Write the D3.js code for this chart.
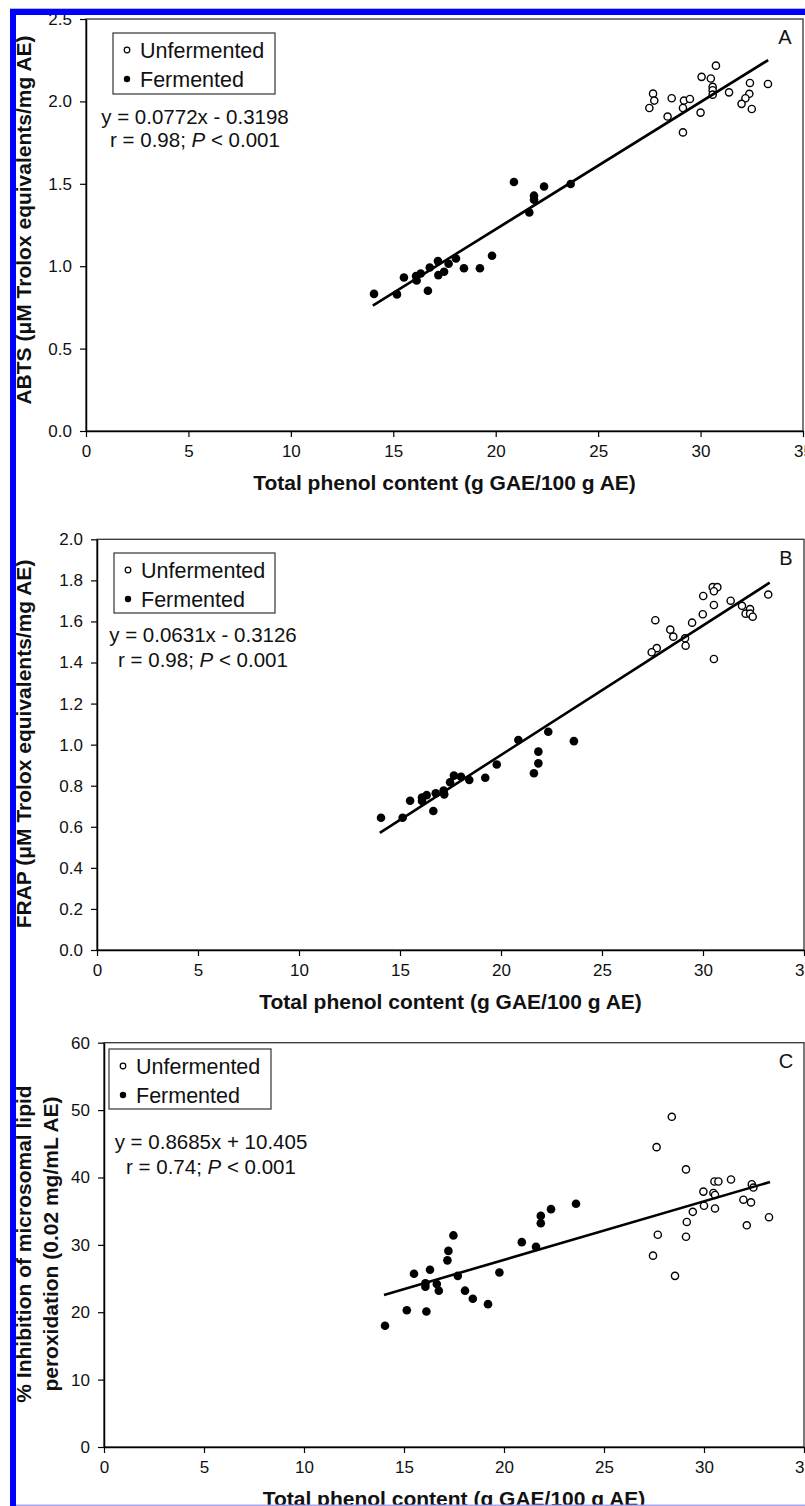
<!DOCTYPE html>
<html><head><meta charset="utf-8">
<script src="https://cdn.jsdelivr.net/npm/d3@7"></script>
<style>body{margin:0;background:#fff;} svg{display:block;}</style>
</head><body>
<script>
// ---------- data ----------
const xTicks = [0, 5, 10, 15, 20, 25, 30, 35];
const yTicksA = [0, 0.5, 1.0, 1.5, 2.0, 2.5];
const yTicksB = [0, 0.2, 0.4, 0.6, 0.8, 1.0, 1.2, 1.4, 1.6, 1.8, 2.0];
const yTicksC = [0, 10, 20, 30, 40, 50, 60];

const unfA_x = [30.75, 30.05, 30.5, 30.59, 30.59, 30.59, 32.41, 33.29, 31.39, 32.38, 32.19, 32.0, 32.5, 27.68, 27.74, 27.5, 28.59, 29.19, 29.48, 29.14, 28.39, 30.0, 29.14];
const unfA_y = [2.217, 2.149, 2.139, 2.088, 2.068, 2.041, 2.112, 2.106, 2.055, 2.046, 2.019, 1.985, 1.954, 2.047, 2.005, 1.960, 2.019, 2.005, 2.015, 1.960, 1.908, 1.932, 1.812];
const ferA_x = [20.89, 22.36, 23.66, 21.87, 21.87, 21.64, 19.82, 19.23, 18.45, 18.06, 17.7, 17.48, 17.2, 17.18, 16.78, 16.69, 16.34, 16.11, 16.14, 15.52, 15.18, 14.06];
const ferA_y = [1.511, 1.484, 1.499, 1.428, 1.403, 1.326, 1.063, 0.988, 0.988, 1.047, 1.015, 0.966, 0.946, 1.031, 0.992, 0.851, 0.956, 0.940, 0.913, 0.931, 0.829, 0.832];

const unfB_x = [30.48, 30.71, 30.54, 30.01, 31.37, 33.23, 30.54, 31.93, 32.33, 32.11, 32.33, 32.46, 29.99, 29.46, 27.64, 28.38, 28.53, 29.11, 29.14, 27.71, 27.46, 30.54];
const unfB_y = [1.767, 1.767, 1.747, 1.724, 1.701, 1.731, 1.680, 1.676, 1.660, 1.638, 1.638, 1.623, 1.635, 1.594, 1.606, 1.560, 1.526, 1.518, 1.482, 1.470, 1.450, 1.417];
const ferB_x = [23.61, 22.34, 20.86, 21.85, 21.85, 21.63, 19.79, 19.22, 18.43, 18.02, 17.67, 17.48, 17.16, 17.19, 16.77, 16.65, 16.32, 16.09, 16.09, 15.5, 15.13, 14.06];
const ferB_y = [1.017, 1.063, 1.023, 0.966, 0.909, 0.861, 0.903, 0.839, 0.828, 0.844, 0.849, 0.817, 0.776, 0.758, 0.763, 0.677, 0.754, 0.742, 0.726, 0.727, 0.644, 0.644];

const unfC_x = [28.39, 27.63, 29.1, 30.52, 30.72, 31.35, 32.39, 32.47, 29.97, 30.47, 30.55, 31.97, 32.35, 30.0, 30.55, 29.44, 29.14, 33.25, 32.14, 27.69, 29.1, 27.45, 28.55];
const unfC_y = [49.0, 44.5, 41.2, 39.4, 39.4, 39.7, 39.0, 38.5, 37.9, 37.7, 37.4, 36.7, 36.3, 35.8, 35.4, 34.9, 33.4, 34.1, 32.9, 31.5, 31.2, 28.4, 25.4];
const ferC_x = [23.6, 22.35, 21.84, 21.84, 20.89, 21.6, 17.47, 17.22, 17.17, 16.3, 15.5, 16.07, 16.07, 16.64, 16.74, 17.69, 18.05, 18.44, 19.2, 19.77, 15.14, 16.12, 14.05];
const ferC_y = [36.1, 35.3, 34.3, 33.2, 30.4, 29.7, 31.4, 29.1, 27.7, 26.3, 25.7, 24.3, 23.8, 24.2, 23.2, 25.4, 23.2, 22.0, 21.2, 25.9, 20.3, 20.1, 18.0];

const slopes = [0.0772, 0.0631, 0.8685];
const intercepts = [-0.3198, -0.3126, 10.405];
const fitRange = [14.0, 33.3];
const eqLines = ["y = 0.0772x - 0.3198", "y = 0.0631x - 0.3126", "y = 0.8685x + 10.405"];
const rValues = ["0.98", "0.98", "0.74"];
const legendLabels = ["Unfermented", "Fermented"];
const panelLetters = ["A", "B", "C"];
const yTitles = [
  ["ABTS (\u03BCM Trolox equivalents/mg AE)"],
  ["FRAP (\u03BCM Trolox equivalents/mg AE)"],
  ["% Inhibition of microsomal lipid", "peroxidation (0.02 mg/mL AE)"]
];
const xTitle = "Total phenol content (g GAE/100 g AE)";

// ---------- layout ----------
const W = 805, H = 1506;
const FONT = "'Liberation Sans', Arial, Helvetica, sans-serif";
const layouts = [
  {l: 86, r: 803, t: 19, b: 431, yMax: 2.5, fmt: d3.format(".1f"), yTicks: yTicksA, ux: unfA_x, uy: unfA_y, fx: ferA_x, fy: ferA_y,
   leg: [113, 33, 162, 61], eq: [195, 117, 140], yTitleC: 220},
  {l: 97, r: 804, t: 539.3, b: 950, yMax: 2.0, fmt: d3.format(".1f"), yTicks: yTicksB, ux: unfB_x, uy: unfB_y, fx: ferB_x, fy: ferB_y,
   leg: [114, 553, 161, 60], eq: [203, 635, 660], yTitleC: 744},
  {l: 104, r: 804, t: 1042.7, b: 1447, yMax: 60, fmt: d3.format("d"), yTicks: yTicksC, ux: unfC_x, uy: unfC_y, fx: ferC_x, fy: ferC_y,
   leg: [109, 1049, 162, 60], eq: [211, 1142, 1167], yTitleC: 1244}
];

const svg = d3.select("body").append("svg").attr("width", W).attr("height", H)
  .style("font-family", FONT);

layouts.forEach((L, i) => {
  const x = d3.scaleLinear().domain([0, 35]).range([L.l, L.r]);
  const y = d3.scaleLinear().domain([0, L.yMax]).range([L.b, L.t]);
  const g = svg.append("g");

  // frame top/right
  g.append("rect").attr("x", L.l).attr("y", L.t).attr("width", L.r - L.l).attr("height", L.b - L.t)
    .attr("fill", "none").attr("stroke", "#333").attr("stroke-width", 1.3);

  // x axis
  const xa = g.append("g").attr("transform", `translate(0,${L.b})`)
    .call(d3.axisBottom(x).tickValues(xTicks).tickSize(6).tickSizeOuter(0).tickPadding(8).tickFormat(d3.format("d")));
  xa.select(".domain").attr("stroke", "#000").attr("stroke-width", 1.5);
  xa.selectAll(".tick line").attr("stroke", "#000").attr("stroke-width", 1.2);
  xa.selectAll(".tick text").attr("font-size", 17).attr("font-family", FONT).attr("fill", "#111");

  // y axis
  const ya = g.append("g").attr("transform", `translate(${L.l},0)`)
    .call(d3.axisLeft(y).tickValues(L.yTicks).tickSize(6).tickSizeOuter(0).tickPadding(8).tickFormat(L.fmt));
  ya.select(".domain").attr("stroke", "#000").attr("stroke-width", 1.5);
  ya.selectAll(".tick line").attr("stroke", "#000").attr("stroke-width", 1.2);
  ya.selectAll(".tick text").attr("font-size", 17).attr("font-family", FONT).attr("fill", "#111");

  // points
  const unf = L.ux.map((v, k) => [v, L.uy[k]]);
  const fer = L.fx.map((v, k) => [v, L.fy[k]]);
  g.selectAll("circle.f").data(fer).join("circle").attr("class", "f")
    .attr("cx", d => x(d[0])).attr("cy", d => y(d[1])).attr("r", 4.3).attr("fill", "#000");
  g.selectAll("circle.u").data(unf).join("circle").attr("class", "u")
    .attr("cx", d => x(d[0])).attr("cy", d => y(d[1])).attr("r", 3.6)
    .attr("fill", "#fff").attr("stroke", "#000").attr("stroke-width", 1.4);

  // regression line
  const line = d3.line().x(d => x(d)).y(d => y(slopes[i] * d + intercepts[i]));
  g.append("path").datum(fitRange).attr("d", line).attr("fill", "none")
    .attr("stroke", "#000").attr("stroke-width", 2.6);

  // legend
  const [lx, ly, lw, lh] = L.leg;
  g.append("rect").attr("x", lx).attr("y", ly).attr("width", lw).attr("height", lh)
    .attr("fill", "#fff").attr("stroke", "#333").attr("stroke-width", 1.2);
  legendLabels.forEach((lab, k) => {
    const cy = ly + 17 + k * 29;
    if (k === 0) {
      g.append("circle").attr("cx", lx + 14).attr("cy", cy).attr("r", 2.8)
        .attr("fill", "#fff").attr("stroke", "#000").attr("stroke-width", 1.2);
    } else {
      g.append("circle").attr("cx", lx + 14).attr("cy", cy).attr("r", 3.2).attr("fill", "#000");
    }
    g.append("text").attr("x", lx + 27).attr("y", cy).attr("dy", "0.36em")
      .attr("font-size", 21.5).attr("fill", "#111").text(lab);
  });

  // equation
  g.append("text").attr("x", L.eq[0]).attr("y", L.eq[1]).attr("dy", "0.36em")
    .attr("text-anchor", "middle").attr("font-size", 20.5).attr("fill", "#111").text(eqLines[i]);
  const t2 = g.append("text").attr("x", L.eq[0]).attr("y", L.eq[2]).attr("dy", "0.36em")
    .attr("text-anchor", "middle").attr("font-size", 20.5).attr("fill", "#111");
  t2.append("tspan").text(`r = ${rValues[i]}; `);
  t2.append("tspan").attr("font-style", "italic").text("P");
  t2.append("tspan").text(" < 0.001");

  // panel letter
  g.append("text").attr("x", L.r - 18).attr("y", L.t + 18).attr("dy", "0.36em")
    .attr("text-anchor", "middle").attr("font-size", 20).attr("fill", "#111").text(panelLetters[i]);

  // x title
  g.append("text").attr("x", (L.l + L.r) / 2).attr("y", L.b + 59)
    .attr("text-anchor", "middle").attr("font-size", 21).attr("font-weight", "bold").attr("fill", "#111")
    .text(xTitle);

  // y title
  const lines = yTitles[i];
  lines.forEach((txt, k) => {
    const bx = lines.length === 1 ? 31 : (k === 0 ? 31 : 58);
    g.append("text").attr("transform", `translate(${bx},${L.yTitleC}) rotate(-90)`)
      .attr("text-anchor", "middle").attr("font-size", 21).attr("font-weight", "bold").attr("fill", "#111")
      .text(txt);
  });
});

// blue page border
svg.append("rect").attr("x", 10).attr("y", 9).attr("width", 6).attr("height", H - 9).attr("fill", "#0000ff");
svg.append("rect").attr("x", 10).attr("y", 9).attr("width", W - 10).attr("height", 6).attr("fill", "#0000ff");
svg.append("rect").attr("x", 10).attr("y", 8).attr("width", W - 10).attr("height", 1).attr("fill", "#b8b8d8");
svg.append("rect").attr("x", 16).attr("y", H - 1.5).attr("width", W - 16).attr("height", 1.5).attr("fill", "#a8a8f0");
</script>
</body></html>
